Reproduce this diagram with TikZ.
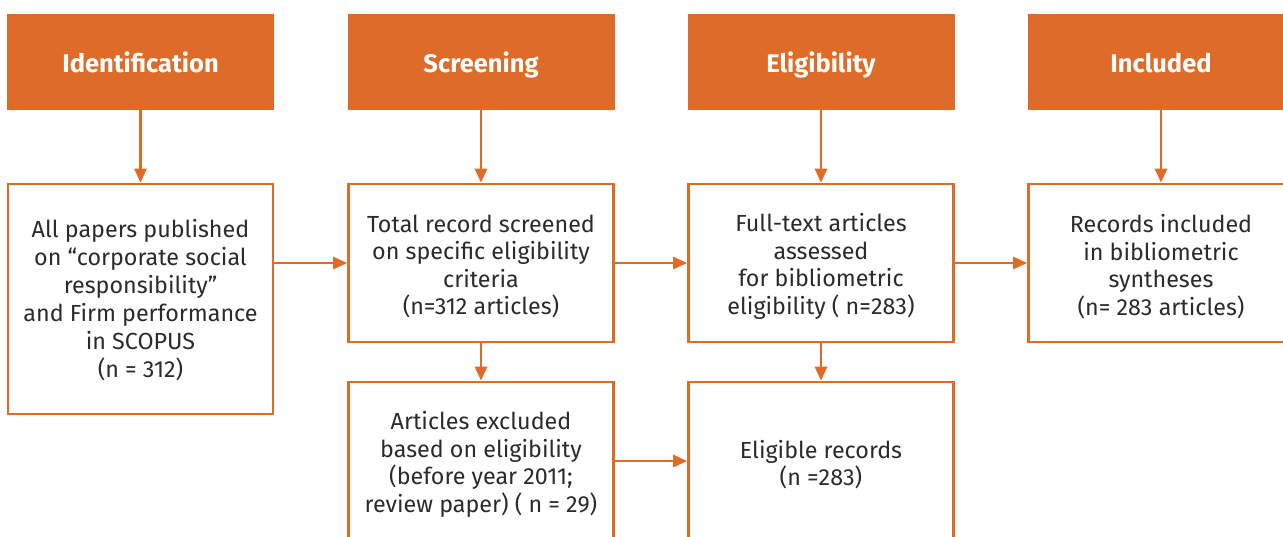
\documentclass[tikz,border=0pt]{standalone}
\usepackage{fontspec}
\setmainfont{Fira Sans}
\usetikzlibrary{arrows.meta}
\definecolor{orng}{HTML}{DF6B28}
\definecolor{txt}{HTML}{2B2B2B}
\tikzset{
  head/.style={fill=orng, draw=none, minimum width=267pt, minimum height=96pt, inner sep=0pt,
    text height=22pt, text depth=2pt,
    text=white, font=\fontsize{25.5}{28}\selectfont\bfseries},
  box/.style={draw=orng, line width=2.6pt, fill=white, minimum width=265pt, minimum height=158pt,
    inner sep=0pt},
  boxtext/.style={inner sep=0pt, align=center, text=txt, yshift=-3.5pt,
    font=\fontsize{23.3}{27.6}\selectfont},
  arr/.style={draw=orng, line width=2.6pt, -{Triangle[length=14pt,width=12pt]}}
}
\begin{document}
\begin{tikzpicture}[x=1pt,y=-1pt]
\useasboundingbox (0,0) rectangle (1283,536);
\clip (0,0) rectangle (1283,536);
\node[head] (h1) at (140.5,62) {Identification};
\node[head] (h2) at (481,62) {Screening};
\node[head] (h3) at (821,62) {Eligibility};
\node[head] (h4) at (1161,62) {Included};

\node[box, minimum height=230pt] (b1) at (140.5,299) {};
\node[box] (b2) at (481,263) {};
\node[box] (b3) at (821,263) {};
\node[box] (b4) at (1161,263) {};
\node[box] (b5) at (481,461) {};
\node[box] (b6) at (821,461) {};

\node[boxtext, font=\fontsize{23.3}{28}\selectfont, yshift=2pt] (t1) at (b1) {All papers published\\on “corporate social\\responsibility”\\and Firm performance\\in SCOPUS\\(n = 312)};
\node[boxtext] (t2) at (b2) {Total record screened\\on specific eligibility\\criteria\\(n=312 articles)};
\node[boxtext] (t3) at (b3) {Full-text articles\\assessed\\for bibliometric\\eligibility ( n=283)};
\node[boxtext] (t4) at (b4) {Records included\\in bibliometric\\syntheses\\(n= 283 articles)};
\node[boxtext] (t5) at (b5) {Articles excluded\\based on eligibility\\(before year 2011;\\review paper) ( n = 29)};
\node[boxtext] (t6) at (b6) {Eligible records\\(n =283)};

\draw[arr] (h1.south) -- (b1.north);
\draw[arr] (h2.south) -- (b2.north);
\draw[arr] (h3.south) -- (b3.north);
\draw[arr] (h4.south) -- (b4.north);
\draw[arr] (b1.east |- b2.west) -- (b2.west);
\draw[arr] (b2.east) -- (b3.west);
\draw[arr] (b3.east) -- (b4.west);
\draw[arr] (b2.south) -- (b5.north);
\draw[arr] (b3.south) -- (b6.north);
\draw[arr] (b5.east) -- (b6.west);
\end{tikzpicture}
\end{document}
